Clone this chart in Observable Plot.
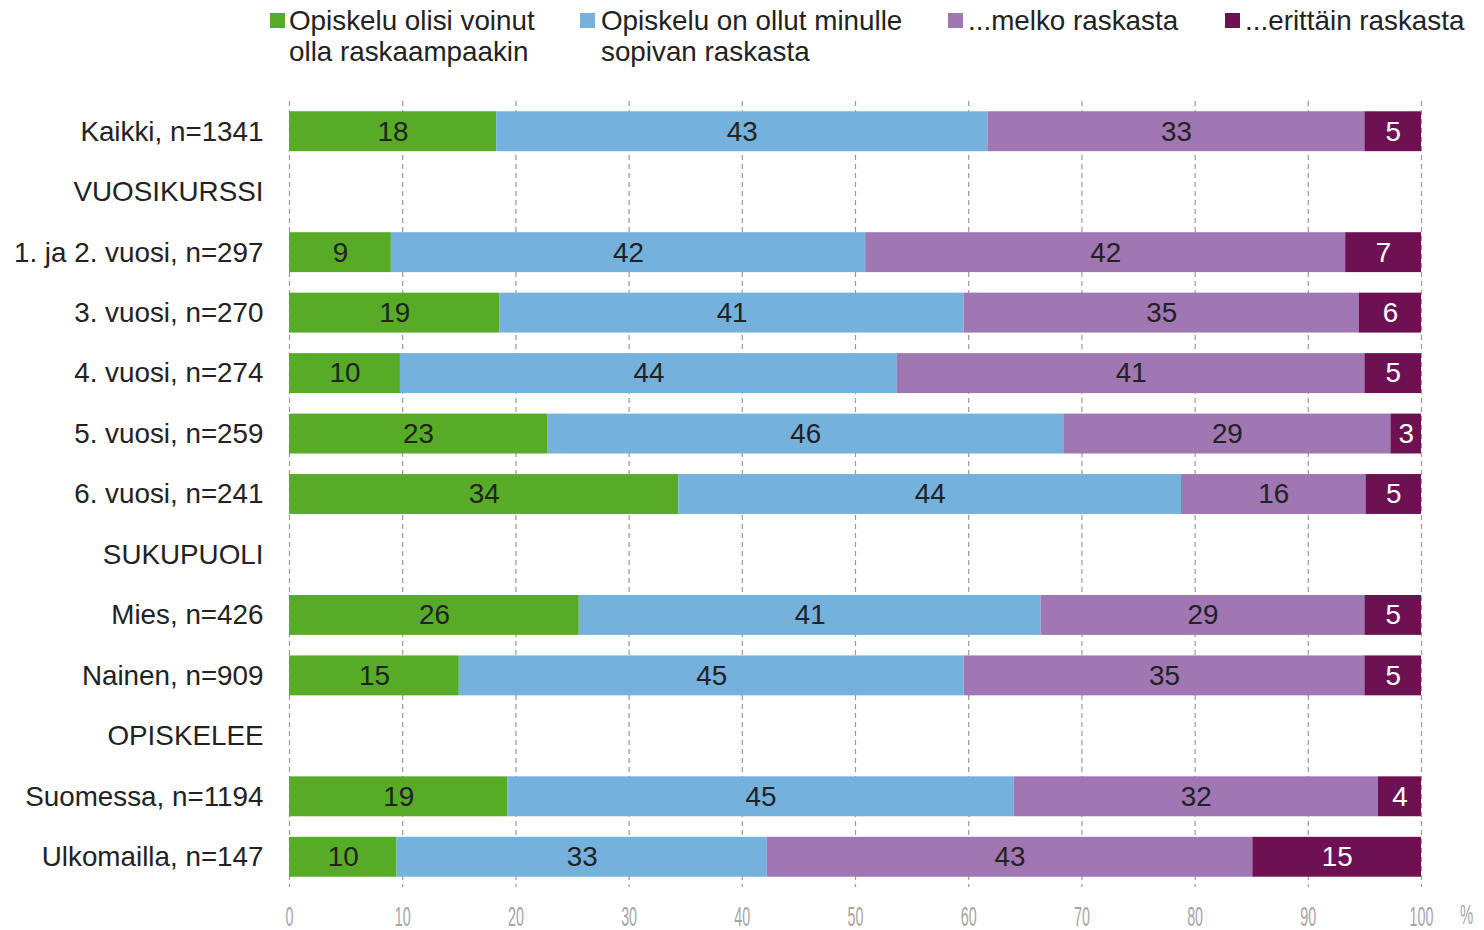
<!DOCTYPE html>
<html>
<head>
<meta charset="utf-8">
<script src="https://cdn.jsdelivr.net/npm/d3@7"></script>
<script src="https://cdn.jsdelivr.net/npm/@observablehq/plot@0.6"></script>
<style>
  body { margin: 0; background: #fff; font-family: "Liberation Sans", Arial, sans-serif; }
  #wrap { position: relative; width: 1484px; height: 930px; }
  #legend { position: relative; height: 92px; }
  .sw { position: absolute; top: 13px; width: 15px; height: 15px; }
  .lt { position: absolute; top: 5px; font-size: 27.8px; line-height: 31px; color: #222; white-space: nowrap; }
  #pct { position: absolute; left: 1460px; top: 900px; font-size: 27px; line-height: 30px; color: #a6a6a6; transform: scaleX(0.55); transform-origin: left center; }
</style>
</head>
<body>
<div id="wrap">
  <div id="legend"></div>
  <div id="chart"></div>
  <div id="pct">%</div>
</div>
<script>
const rows = ["Kaikki, n=1341","VUOSIKURSSI","1. ja 2. vuosi, n=297","3. vuosi, n=270","4. vuosi, n=274","5. vuosi, n=259","6. vuosi, n=241","SUKUPUOLI","Mies, n=426","Nainen, n=909","OPISKELEE","Suomessa, n=1194","Ulkomailla, n=147"];
const series = ["Opiskelu olisi voinut olla raskaampaakin","Opiskelu on ollut minulle sopivan raskasta","...melko raskasta","...erittäin raskasta"];
const legendLines = [["Opiskelu olisi voinut","olla raskaampaakin"],["Opiskelu on ollut minulle","sopivan raskasta"],["...melko raskasta"],["...erittäin raskasta"]];
const colors = ["#58ab27","#74b1dd","#a076b3","#6e1153"];
const lighter  = [18.3,null, 9.0,18.6, 9.8,22.8,34.4,null,25.6,15.0,null,19.3, 9.5];
const suitable = [43.4,null,41.9,41.0,43.9,45.6,44.4,null,40.8,44.6,null,44.7,32.7];
const fairly   = [33.3,null,42.4,34.9,41.3,28.9,16.3,null,28.6,35.4,null,32.2,42.9];
const very     = [ 5.0,null, 6.7, 5.5, 5.0, 2.7, 4.9,null, 5.0, 5.0,null, 3.8,14.9];
const xTicks = [0,10,20,30,40,50,60,70,80,90,100];

const seriesValues = [lighter, suitable, fairly, very];
const data = [];
rows.forEach((row, i) => {
  seriesValues.forEach((vals, s) => {
    if (vals[i] != null) data.push({row, cat: series[s], value: vals[i]});
  });
});

// legend
const legendPos = [[270,289],[580,601],[948,968],[1225,1245]];
const lg = document.getElementById("legend");
series.forEach((s, i) => {
  const sw = document.createElement("div");
  sw.className = "sw"; sw.style.left = legendPos[i][0] + "px"; sw.style.background = colors[i];
  lg.appendChild(sw);
  const t = document.createElement("div");
  t.className = "lt"; t.style.left = legendPos[i][1] + "px";
  t.innerHTML = legendLines[i].join("<br>");
  lg.appendChild(t);
});

const chart = Plot.plot({
  width: 1484,
  height: 838,
  marginLeft: 289,
  marginRight: 63,
  marginTop: 9,
  marginBottom: 43,
  style: {fontFamily: "Liberation Sans, Arial, sans-serif", color: "#222", background: "#fff"},
  x: {domain: [0, 100]},
  y: {domain: rows, paddingInner: 0.34, paddingOuter: 0.17, round: false},
  color: {domain: series, range: colors},
  marks: [
    Plot.gridX(xTicks, {stroke: "#9a9a9a", strokeOpacity: 1, strokeDasharray: "5,4", strokeWidth: 1.2}),
    Plot.barX(data, Plot.stackX({x: "value", y: "row", z: "cat", fill: "cat"})),
    Plot.text(data, Plot.stackX({x: "value", y: "row", z: "cat", text: d => String(Math.round(d.value)),
      fill: d => d.cat === series[3] ? "#ffffff" : "#222222", fontSize: 27.8})),
    Plot.axisY({tickSize: 0, tickPadding: 26, fontSize: 27.8, fill: "#222", label: null}),
    Plot.axisX({ticks: xTicks, tickSize: 0, tickPadding: 19, fontSize: 27, fill: "#a6a6a6", label: null})
  ]
});
document.getElementById("chart").appendChild(chart);
// condense x tick labels
chart.querySelectorAll('g[aria-label="x-axis tick label"] text').forEach(t => {
  const tr = t.getAttribute("transform") || "";
  t.setAttribute("transform", tr + " scale(0.53,1)");
});
</script>
</body>
</html>
